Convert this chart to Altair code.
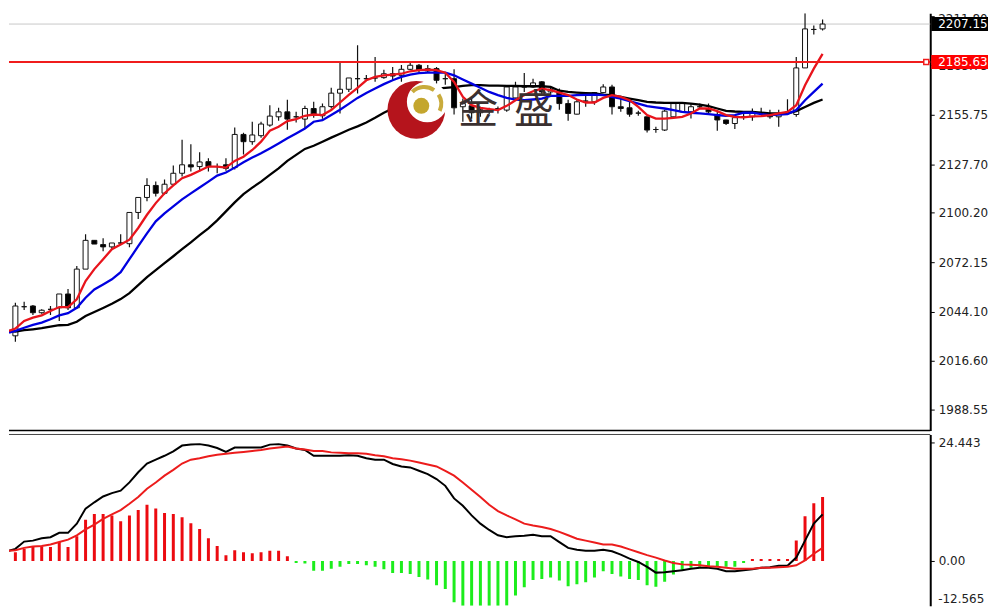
import altair as alt
import pandas as pd

# ---- candles (prices) ----
open_ = [2035.5,2030.5,2047.0,2047.4,2043.6,2045.5,2046.4,2054.2,2046.4,2068.3,2084.6,2082.2,2080.9,2083.1,2082.7,2100.4,2108.9,2115.7,2111.3,2116.4,
         2122.6,2127.4,2126.4,2129.2,2126.4,2127.4,2125.8,2144.6,2140.5,2143.9,2149.9,2154.6,2157.4,2154.6,2153.3,2159.3,2155.2,2160.4,2168.0,2170.2,
         2176.2,2176.2,2176.6,2176.8,2179.0,2178.1,2181.5,2183.8,2180.6,2181.9,2176.2,2176.2,2160.3,2160.8,2156.9,2158.0,2159.3,2158.4,2165.3,2171.5,
         2171.5,2174.4,2168.7,2168.7,2162.1,2156.1,2163.5,2163.1,2168.3,2171.5,2160.3,2159.7,2156.7,2154.6,2147.4,2147.1,2154.6,2157.4,2157.4,2160.3,
         2159.3,2155.9,2152.8,2150.8,2154.6,2154.6,2156.9,2156.5,2154.6,2156.5,2155.9,2182.3,2204.1,2204.4]
high = [2037.2,2049.3,2049.8,2048.0,2045.5,2047.4,2054.2,2057.0,2070.0,2088.0,2084.6,2085.8,2083.1,2088.0,2100.4,2108.9,2119.8,2117.9,2119.1,2127.0,
        2141.6,2139.0,2134.5,2131.1,2128.1,2131.1,2148.6,2145.6,2151.8,2151.8,2161.2,2159.7,2164.2,2157.4,2160.8,2163.1,2162.1,2171.0,2185.6,2176.6,
        2195.1,2178.3,2188.5,2181.3,2182.8,2184.0,2185.2,2184.5,2184.0,2182.8,2180.0,2181.5,2165.0,2165.9,2160.3,2159.7,2160.4,2171.5,2174.4,2179.4,
        2176.2,2174.9,2171.5,2170.6,2164.2,2164.2,2168.7,2168.7,2173.0,2172.7,2166.5,2164.2,2158.0,2154.6,2148.9,2158.6,2162.1,2162.1,2162.1,2162.1,
        2162.1,2157.4,2153.0,2154.1,2156.3,2159.3,2159.7,2158.6,2158.6,2164.6,2188.5,2222.0,2206.4,2209.7]
low = [2029.3,2027.1,2045.1,2042.3,2043.0,2042.3,2038.9,2045.1,2045.7,2068.3,2082.5,2078.4,2079.6,2082.4,2080.7,2096.7,2106.7,2109.5,2110.6,2116.2,
       2120.8,2123.6,2123.6,2123.6,2122.6,2124.1,2124.7,2133.2,2138.8,2142.8,2149.0,2152.4,2147.3,2151.4,2148.0,2154.1,2153.5,2159.3,2156.5,2168.7,
       2167.8,2174.9,2174.4,2176.2,2175.5,2174.4,2181.1,2180.0,2180.0,2173.4,2172.8,2155.9,2151.8,2153.5,2154.6,2156.0,2156.5,2157.4,2165.0,2168.7,
       2171.0,2167.0,2167.0,2158.6,2152.4,2155.9,2160.3,2161.4,2168.0,2155.9,2157.4,2154.6,2155.2,2145.7,2145.6,2146.5,2154.6,2157.0,2153.7,2159.0,
       2155.75,2146.7,2149.9,2147.7,2152.9,2152.4,2155.75,2153.5,2149.0,2155.75,2154.6,2182.3,2201.3,2203.5]
close = [2030.5,2047.4,2047.0,2043.6,2045.0,2045.5,2054.2,2046.4,2068.3,2084.6,2082.5,2080.9,2083.1,2083.1,2100.4,2108.9,2115.7,2111.3,2116.4,2122.6,
         2127.4,2126.2,2129.0,2126.4,2126.4,2125.4,2144.6,2140.5,2144.3,2150.5,2155.0,2157.4,2153.3,2154.6,2159.3,2155.75,2160.3,2168.0,2170.2,2176.6,
         2176.2,2176.2,2176.6,2179.0,2177.7,2181.5,2183.8,2181.0,2181.9,2175.3,2176.2,2159.7,2162.1,2156.9,2158.6,2158.0,2159.3,2171.5,2171.5,2171.5,
         2173.8,2168.7,2170.2,2162.1,2156.5,2163.1,2163.5,2168.3,2171.5,2160.3,2159.3,2156.1,2156.7,2147.1,2147.4,2157.8,2162.1,2162.1,2160.3,2160.3,
         2157.4,2152.8,2150.8,2154.1,2154.6,2156.9,2156.9,2154.6,2156.5,2156.5,2182.3,2204.4,2204.1,2207.15]

ma_fast = [2033.3,2034.6,2038.9,2040.8,2042.1,2044.6,2046.8,2046.8,2051.2,2061.5,2068.3,2073.9,2079.6,2082.2,2085.0,2091.6,2099.1,2105.7,2111.3,2115.7,
           2119.8,2121.7,2124.0,2126.4,2126.4,2125.8,2129.6,2132.0,2135.8,2140.5,2146.7,2149.0,2152.2,2153.3,2155.2,2155.9,2155.6,2158.4,2162.7,2167.0,
           2171.0,2175.3,2177.2,2178.1,2178.5,2179.0,2180.4,2181.0,2181.3,2181.0,2179.6,2174.4,2165.9,2161.2,2159.7,2159.0,2158.4,2160.8,2164.0,2166.9,
           2169.1,2170.6,2169.7,2168.3,2166.9,2164.4,2162.7,2162.7,2165.3,2166.9,2165.9,2164.0,2160.2,2155.6,2153.6,2153.6,2154.0,2154.6,2156.5,2159.3,
           2159.3,2157.8,2155.6,2154.6,2154.3,2154.9,2155.0,2155.6,2156.5,2157.4,2161.2,2172.5,2181.9,2190.3]
ma_mid = [2032.3,2033.3,2035.1,2036.7,2038.0,2039.9,2042.1,2043.3,2046.4,2052.1,2056.8,2059.6,2062.5,2066.6,2073.9,2081.3,2088.6,2095.4,2099.9,2103.8,
          2107.8,2111.2,2114.5,2117.9,2121.3,2123.0,2125.8,2128.8,2131.5,2133.9,2136.7,2139.5,2142.4,2145.2,2148.0,2151.8,2152.7,2155.6,2158.6,2161.9,
          2165.3,2168.1,2170.6,2173.1,2175.3,2177.2,2178.5,2179.3,2179.6,2179.6,2179.6,2178.1,2175.7,2173.4,2171.1,2168.7,2166.9,2165.3,2164.4,2164.0,
          2164.4,2164.9,2166.5,2166.5,2166.5,2166.9,2167.0,2167.2,2166.9,2165.9,2164.9,2163.5,2162.1,2160.6,2159.9,2159.3,2158.4,2157.4,2156.9,2156.5,
          2156.1,2155.6,2155.2,2155.6,2156.9,2157.0,2156.1,2155.6,2155.9,2156.1,2158.4,2164.0,2168.7,2173.4]
ma_slow = [2033.3,2032.9,2033.7,2034.2,2034.8,2035.7,2036.5,2036.7,2038.5,2041.7,2044.0,2046.3,2048.7,2051.3,2054.7,2059.2,2063.8,2067.7,2071.7,2075.6,
           2079.6,2083.5,2087.5,2091.4,2095.9,2101.0,2106.1,2110.8,2114.5,2117.9,2121.7,2125.4,2129.6,2133.0,2136.4,2138.2,2140.5,2142.8,2145.0,2147.3,
           2149.2,2151.4,2154.0,2156.9,2159.3,2162.1,2164.9,2166.9,2169.1,2170.6,2171.0,2171.4,2172.1,2172.5,2172.5,2172.3,2172.3,2172.1,2172.1,2171.9,
           2171.9,2171.9,2171.5,2169.4,2168.7,2168.3,2168.0,2167.8,2167.2,2166.9,2165.9,2164.9,2164.0,2163.1,2162.7,2162.5,2162.5,2162.5,2162.1,2161.5,
           2160.6,2159.3,2158.0,2157.6,2157.4,2157.4,2157.0,2156.5,2156.5,2156.5,2157.8,2160.2,2162.5,2164.4]

macd = [2.1,2.5,4.0,4.2,4.7,4.9,5.8,5.8,7.7,10.8,12.1,13.3,14.0,14.5,16.2,18.3,20.1,20.9,21.7,22.6,
        23.8,24.0,24.1,23.8,23.3,22.5,23.4,23.4,23.4,23.4,24.0,24.1,23.8,23.2,22.9,21.7,21.7,21.7,21.7,21.8,
        21.7,21.2,20.9,20.9,20.0,19.5,19.3,18.6,17.9,16.9,15.5,12.9,11.4,9.4,7.7,6.4,5.3,4.9,5.1,5.2,
        5.4,5.1,5.1,3.9,2.7,2.3,2.1,2.1,2.3,2.0,1.3,0.5,-0.2,-1.2,-2.4,-2.3,-2.1,-1.9,-1.6,-1.4,
        -1.4,-1.6,-2.1,-2.1,-1.9,-1.7,-1.4,-1.3,-1.0,-1.0,0.7,4.2,7.7,9.6]
signal = [2.1,2.2,2.7,3.0,3.1,3.4,3.9,4.4,5.3,6.5,7.5,8.7,9.6,10.5,11.8,13.2,14.9,16.2,17.6,18.8,
          20.1,20.9,21.2,21.6,21.9,22.1,22.3,22.5,22.7,22.9,23.2,23.4,23.6,23.2,23.0,22.7,22.7,22.4,22.3,22.2,
          22.2,22.1,21.8,21.6,21.2,21.0,20.7,20.3,19.9,19.5,18.6,17.6,16.2,14.7,13.2,11.6,10.3,9.4,8.6,7.7,
          7.3,7.0,6.6,6.0,5.3,4.6,4.2,3.8,3.4,3.4,3.0,2.4,1.8,1.2,0.7,0.1,-0.4,-0.7,-0.8,-0.9,
          -1.1,-1.2,-1.4,-1.6,-1.6,-1.6,-1.4,-1.4,-1.3,-1.2,-0.9,0.1,1.5,2.7]
hist = [-0.2,1.8,2.5,2.9,3.0,2.9,3.9,2.9,5.1,8.5,9.7,9.7,9.4,8.2,9.4,10.5,11.6,10.8,9.9,9.7,
        9.0,7.8,6.6,4.7,3.1,1.2,2.2,1.8,1.6,1.8,2.1,2.1,1.0,-0.4,-0.5,-2.0,-2.0,-1.6,-1.2,-0.6,
        -0.6,-0.9,-1.2,-1.7,-2.5,-2.5,-2.7,-3.3,-3.8,-5.0,-5.8,-8.5,-9.8,-11.2,-11.5,-11.0,-10.6,-9.2,-7.1,-5.4,
        -3.9,-3.7,-3.4,-4.0,-5.2,-4.8,-4.4,-3.4,-2.1,-2.7,-3.2,-3.7,-3.9,-5.0,-5.3,-4.3,-2.8,-1.9,-1.4,-1.2,
        -1.1,-1.2,-1.2,-1.2,-0.4,0.4,0.4,0.4,0.4,0.4,4.2,9.2,11.9,13.2]

price_ticks = [1988.55,2016.60,2044.10,2072.15,2100.20,2127.70,2155.75,2183.75,2211.80]
top_tick = ["2211.80"]
macd_ticks = [24.443,0.0]
macd_min_label = ["-12.565"]
last_price = 2207.15
line_price = 2185.63

idx = list(range(len(close)))
candles = pd.DataFrame({"i": idx, "open": open_, "high": high, "low": low, "close": close,
                        "fast": ma_fast, "mid": ma_mid, "slow": ma_slow})
lower = pd.DataFrame({"i": idx, "macd": macd, "signal": signal, "hist": hist, "zero": [0.0] * len(idx)})
levels = pd.DataFrame({"last": [last_price], "line": [line_price]})
single = pd.DataFrame({"a": [0]})
min_label = pd.DataFrame({"t": macd_min_label})
top_label = pd.DataFrame({"t": top_tick})

OX, OY = 8, 11  # where the plot's corner lands on the page
W, H1, H2 = 925, 419, 172
FONT = "DejaVu Sans"
xs = alt.Scale(domain=[0.2724, 105.27], nice=False, zero=False, clamp=True, padding=0)
ys = alt.Scale(domain=[1976.86, 2213.30], nice=False, zero=False, clamp=True)
ms = alt.Scale(domain=[-9.24, 26.09], nice=False, zero=False, clamp=True)
X = alt.X("i:Q", scale=xs, axis=None)
common = dict(orient="right", grid=False, tickSize=4, tickColor="#000", domainColor="#000", domainWidth=2,
              labelColor="#222", labelFont=FONT, labelFontSize=12, labelPadding=4, labelOverlap=False, title=None)
price_ax = alt.Axis(values=price_ticks, labelExpr="datum.value > 2200 ? '' : format(datum.value, '.2f')", **common)
macd_ax = alt.Axis(values=macd_ticks, labelExpr="datum.value == 0 ? '0.00' : format(datum.value, '.3f')", **common)


def PY(f):
    return alt.Y(f, scale=ys, axis=price_ax)


def MY(f):
    return alt.Y(f, scale=ms, axis=macd_ax)


base = alt.Chart(candles)
visible = base.transform_filter("datum.i > 0")
last_rule = alt.Chart(levels).mark_rule(color="#c8c8c8", strokeWidth=1).encode(y=PY("last:Q"))
wicks = visible.mark_rule(color="#111", strokeWidth=1.2, clip=True).encode(x=X, y=PY("low:Q"), y2="high:Q")
bodies = visible.mark_bar(size=5, stroke="#111", strokeWidth=1, orient="vertical", clip=True).encode(
    x=X, y=PY("open:Q"), y2="close:Q",
    fill=alt.condition("datum.close >= datum.open", alt.value("#ffffff"), alt.value("#000000")),
)
line_slow = base.mark_line(color="#000000", strokeWidth=2.3, clip=True).encode(x=X, y=PY("slow:Q"))
line_mid = base.mark_line(color="#0000e0", strokeWidth=2.3, clip=True).encode(x=X, y=PY("mid:Q"))
line_fast = base.mark_line(color="#e8141c", strokeWidth=2.3, clip=True).encode(x=X, y=PY("fast:Q"))
red_rule = alt.Chart(levels).mark_rule(color="#f01c1c", strokeWidth=2).encode(y=PY("line:Q"))
marker = alt.Chart(levels).mark_point(shape="square", size=25, filled=True, fill="#ffffff", stroke="#f01c1c", strokeWidth=1.5, opacity=1).encode(
    x=alt.value(929 - OX), y=PY("line:Q"))
bottom_line = alt.Chart(single).mark_rule(color="#000", strokeWidth=1.5).encode(
    y=alt.value(H1), x=alt.value(0), x2=alt.value(W))
top_text = alt.Chart(top_label).mark_text(color="#222", font=FONT, fontSize=12, align="left", baseline="middle").encode(
    x=alt.value(W + 8), y=alt.value(6), text="t:N")


def value_box(field, colour):
    rect = alt.Chart(levels).mark_rect(color=colour, height=14).encode(
        y=PY(f"{field}:Q"), x=alt.value(W + 1), x2=alt.value(W + 58))
    txt = alt.Chart(levels).mark_text(color="#ffffff", font=FONT, fontSize=12, align="left", baseline="middle", dx=7).encode(
        x=alt.value(W + 1), y=PY(f"{field}:Q"), text=alt.Text(f"{field}:Q", format=".2f"))
    return rect + txt


def dot(px, py, r, colour):
    return alt.Chart(single).mark_circle(size=(2 * r) ** 2, color=colour, opacity=1).encode(
        x=alt.value(px - OX), y=alt.value(py - OY))


def swoosh(px, py, r0, r1, a0, a1):
    return alt.Chart(single).mark_arc(color="#c9ab3c", innerRadius=r0, outerRadius=r1, theta=a0, theta2=a1).encode(
        x=alt.value(px - OX), y=alt.value(py - OY))


logo = (dot(417, 108, 29, "#b5141c") + dot(428, 100, 20.5, "#ffffff") + dot(422, 104, 8, "#c4a62e")
        + swoosh(425, 102, 15, 19, 5.5, 6.9) + swoosh(425, 102, 15, 19, 1.0, 2.0))
word_a = alt.Chart(single).mark_text(text="金", font="Noto Sans CJK SC", fontSize=40, color="#3a3030", align="left", baseline="middle").encode(
    x=alt.value(459 - OX), y=alt.value(109 - OY))
word_b = alt.Chart(single).mark_text(text="盛", font="Noto Sans CJK SC", fontSize=40, color="#3a3030", align="left", baseline="middle").encode(
    x=alt.value(515 - OX), y=alt.value(109 - OY))

upper = alt.layer(last_rule, wicks, bodies, line_slow, line_mid, line_fast, red_rule, marker, bottom_line, top_text,
                  value_box("last", "#000000"), value_box("line", "#ff0000"),
                  logo, word_a, word_b).properties(width=W, height=H1)

lbase = alt.Chart(lower)
bars = lbase.transform_filter("datum.i > 0").mark_rule(strokeWidth=3, clip=True).encode(
    x=X, y=MY("zero:Q"), y2="hist:Q",
    color=alt.condition("datum.hist > 0", alt.value("#ec0a10"), alt.value("#1ced1c")),
)
line_macd = lbase.mark_line(color="#000000", strokeWidth=2, clip=True).encode(x=X, y=MY("macd:Q"))
line_signal = lbase.mark_line(color="#ec1c1c", strokeWidth=2, clip=True).encode(x=X, y=MY("signal:Q"))
top_line = alt.Chart(single).mark_rule(color="#444", strokeWidth=1).encode(
    y=alt.value(0), x=alt.value(0), x2=alt.value(W))
low_text = alt.Chart(min_label).mark_text(color="#222", font=FONT, fontSize=12, align="left", baseline="bottom").encode(
    x=alt.value(W + 8), y=alt.value(H2), text="t:N")
lower_panel = alt.layer(bars, line_macd, line_signal, top_line, low_text).properties(width=W, height=H2)

chart = alt.vconcat(upper, lower_panel, spacing=2).properties(
    padding=0, background="#ffffff"
).configure_view(stroke=None).resolve_scale(x="independent", y="independent")

chart.save("out.html", embed_options={"renderer": "svg", "actions": False})
